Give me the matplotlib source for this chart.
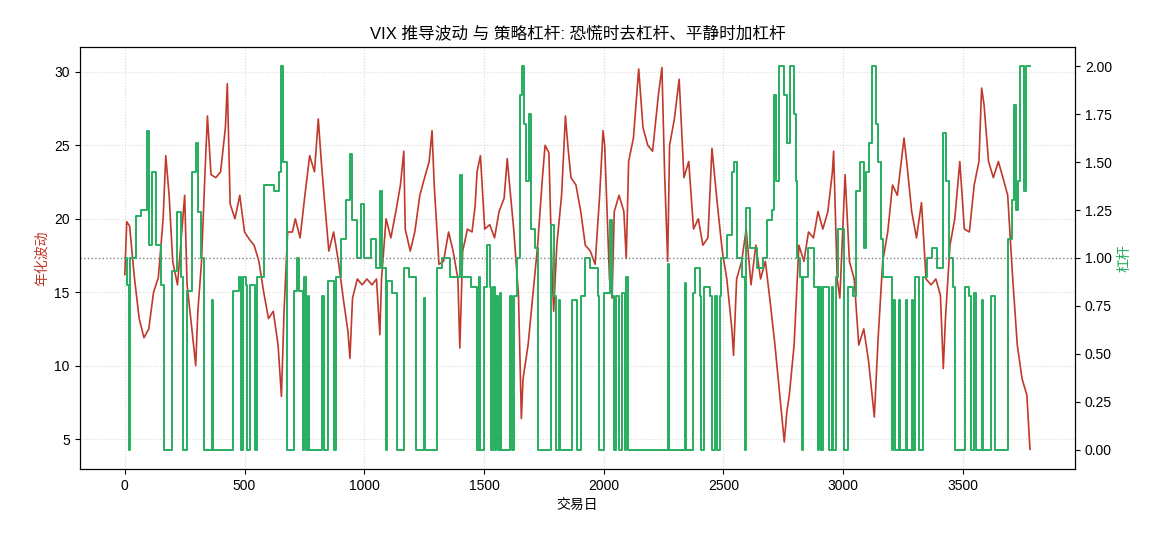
import matplotlib
matplotlib.use("Agg")
import matplotlib.pyplot as plt

plt.rcParams['font.family'] = ['Liberation Sans', 'Noto Sans CJK SC', 'DejaVu Sans']
plt.rcParams['axes.unicode_minus'] = False

# VIX 推导年化波动 (交易日, 数值)
vol_days = [0, 8, 20, 40, 60, 80, 100, 120, 140, 160, 171, 185, 200, 220, 240, 250, 260, 280, 296, 305,
            320, 335, 345, 360, 380, 400, 420, 428, 440, 460, 480, 500, 520, 540, 560, 580, 600, 620, 640, 654,
            665, 680, 700, 712, 732, 752, 772, 792, 808, 820, 832, 852, 872, 892, 912, 932, 940, 951, 971, 991,
            1011, 1032, 1051, 1065, 1072, 1091, 1111, 1132, 1151, 1165, 1171, 1192, 1211, 1232, 1252, 1271, 1283, 1292, 1312, 1331,
            1352, 1371, 1391, 1399, 1411, 1431, 1450, 1463, 1471, 1485, 1503, 1524, 1544, 1563, 1584, 1597, 1604, 1624, 1644, 1656,
            1663, 1684, 1704, 1724, 1744, 1755, 1771, 1784, 1791, 1804, 1824, 1840, 1850, 1863, 1884, 1904, 1923, 1944, 1964, 1983,
            1997, 2004, 2024, 2035, 2044, 2064, 2084, 2094, 2104, 2124, 2146, 2164, 2184, 2204, 2214, 2228, 2243, 2254, 2267, 2275,
            2295, 2315, 2335, 2355, 2375, 2395, 2414, 2435, 2452, 2475, 2495, 2514, 2535, 2542, 2555, 2576, 2595, 2615, 2635, 2655,
            2675, 2696, 2715, 2735, 2754, 2765, 2775, 2795, 2815, 2836, 2855, 2876, 2895, 2915, 2936, 2955, 2960, 2975, 2986, 3008,
            3026, 3046, 3065, 3086, 3106, 3130, 3146, 3165, 3186, 3206, 3226, 3254, 3265, 3286, 3306, 3327, 3346, 3367, 3387, 3406,
            3418, 3427, 3446, 3466, 3487, 3506, 3527, 3547, 3567, 3578, 3588, 3607, 3627, 3648, 3667, 3687, 3708, 3727, 3747, 3767,
            3780]
vol_vals = [16.2, 19.8, 19.5, 16.0, 13.2, 11.9, 12.5, 15.0, 16.0, 20.0, 24.3, 21.6, 17.1, 15.5, 19.6, 21.6, 15.5, 12.5, 10.0, 13.7,
            17.0, 23.2, 27.0, 23.0, 22.8, 23.2, 26.2, 29.2, 21.0, 20.0, 21.6, 19.1, 18.6, 18.2, 17.1, 15.0, 13.2, 13.7, 11.4, 7.9,
            13.7, 19.1, 19.1, 20.0, 18.7, 21.6, 24.3, 23.2, 26.8, 24.0, 21.6, 17.8, 19.1, 17.1, 14.6, 12.3, 10.5, 14.6, 15.9, 15.5,
            15.9, 15.5, 15.9, 12.1, 15.9, 20.0, 18.7, 20.5, 22.3, 24.6, 19.3, 17.8, 19.1, 21.6, 22.8, 23.9, 26.0, 22.3, 16.9, 17.1,
            19.1, 17.8, 15.9, 11.2, 17.8, 19.3, 19.1, 20.9, 23.2, 24.3, 19.3, 19.6, 18.7, 20.5, 21.4, 24.1, 22.8, 19.3, 14.8, 6.4,
            9.1, 11.4, 14.8, 18.2, 22.8, 25.0, 24.5, 16.4, 13.7, 18.2, 21.6, 27.0, 25.0, 22.8, 22.3, 20.5, 18.2, 17.8, 16.9, 21.6,
            26.0, 25.0, 15.9, 14.6, 20.5, 21.6, 20.5, 17.3, 23.9, 25.5, 30.2, 26.2, 25.0, 24.6, 26.2, 28.4, 30.3, 23.2, 17.1, 25.0,
            26.8, 29.5, 22.8, 23.9, 19.3, 20.0, 18.2, 18.7, 24.8, 20.9, 17.8, 15.9, 12.5, 10.7, 15.9, 17.1, 19.3, 15.5, 18.2, 15.9,
            17.1, 14.2, 11.4, 8.0, 4.8, 6.9, 8.0, 11.4, 18.2, 17.1, 19.1, 18.7, 20.5, 19.3, 20.5, 23.2, 24.6, 15.9, 14.6, 23.0,
            17.1, 15.9, 11.4, 12.5, 10.3, 6.5, 11.9, 17.1, 19.1, 22.3, 21.6, 25.5, 23.9, 20.5, 18.7, 21.1, 15.9, 15.5, 15.9, 14.8,
            9.8, 13.2, 18.2, 20.0, 23.9, 19.3, 19.1, 22.3, 23.9, 28.9, 27.8, 23.9, 22.8, 23.9, 22.8, 21.6, 15.9, 11.4, 9.1, 8.0,
            4.3]

# 策略杠杆 (变化点: 交易日, 杠杆)
lev_days = [0, 11, 18, 22, 46, 67, 92, 102, 113, 129, 150, 164, 195, 220, 234, 245, 260, 282, 296, 306,
            320, 331, 366, 370, 453, 477, 484, 495, 505, 512, 523, 542, 551, 581, 623, 644, 654, 662, 676, 706,
            720, 727, 744, 748, 755, 765, 769, 825, 832, 848, 873, 882, 901, 922, 940, 950, 971, 985, 999, 1027,
            1048, 1065, 1075, 1089, 1096, 1117, 1138, 1166, 1186, 1214, 1249, 1253, 1304, 1325, 1360, 1399, 1409, 1444, 1469, 1480,
            1485, 1502, 1513, 1524, 1530, 1538, 1547, 1552, 1558, 1566, 1571, 1608, 1617, 1624, 1638, 1650, 1659, 1669, 1677, 1687,
            1697, 1715, 1725, 1781, 1794, 1802, 1812, 1819, 1868, 1889, 1903, 1923, 1944, 1975, 1979, 2000, 2025, 2035, 2042, 2053,
            2063, 2077, 2087, 2094, 2100, 2267, 2271, 2340, 2345, 2373, 2382, 2403, 2407, 2417, 2442, 2452, 2466, 2473, 2484, 2490,
            2515, 2535, 2545, 2556, 2577, 2588, 2595, 2612, 2640, 2667, 2681, 2702, 2709, 2720, 2730, 2751, 2765, 2779, 2795, 2802,
            2809, 2820, 2827, 2834, 2855, 2876, 2893, 2901, 2906, 2917, 2942, 2952, 2959, 2970, 2980, 3004, 3022, 3043, 3054, 3071,
            3085, 3096, 3106, 3119, 3136, 3147, 3157, 3165, 3203, 3210, 3217, 3231, 3238, 3263, 3268, 3286, 3293, 3300, 3318, 3332,
            3349, 3369, 3390, 3415, 3429, 3443, 3460, 3467, 3508, 3527, 3532, 3546, 3554, 3578, 3585, 3616, 3634, 3689, 3703, 3713,
            3721, 3731, 3738, 3756, 3763, 3780]
lev_vals = [1.0, 0.86, 0.0, 1.0, 1.22, 1.25, 1.66, 1.07, 1.45, 1.07, 0.86, 0.0, 0.93, 1.24, 0.9, 0.0, 0.83, 1.45, 1.6, 1.24,
            1.0, 0.0, 0.78, 0.0, 0.83, 0.9, 0.0, 0.9, 0.86, 0.0, 0.86, 0.0, 0.9, 1.38, 1.35, 1.45, 2.0, 1.5, 0.0, 0.83,
            1.0, 0.83, 0.0, 0.9, 0.0, 0.8, 0.0, 0.8, 0.0, 0.88, 0.0, 0.9, 1.1, 1.3, 1.54, 1.2, 1.0, 1.28, 1.0, 1.1,
            0.95, 1.35, 0.95, 0.0, 0.88, 0.82, 0.0, 0.95, 0.9, 0.0, 0.79, 0.0, 0.95, 1.0, 0.9, 1.43, 0.9, 0.85, 0.0, 0.9,
            0.0, 0.85, 1.07, 0.85, 0.0, 0.85, 0.0, 0.8, 0.0, 0.82, 0.0, 0.8, 0.0, 0.8, 1.0, 1.85, 2.0, 1.7, 1.4, 1.75,
            1.15, 1.05, 0.0, 1.17, 0.8, 0.0, 0.78, 0.0, 0.78, 0.0, 0.8, 1.0, 0.95, 0.8, 0.0, 0.82, 1.2, 0.8, 0.0, 0.8,
            0.0, 0.82, 0.0, 0.9, 0.0, 0.97, 0.0, 0.87, 0.0, 0.82, 0.95, 0.8, 0.0, 0.85, 0.8, 0.0, 0.8, 0.0, 0.8, 1.0,
            1.12, 1.45, 1.5, 1.0, 0.9, 0.0, 1.26, 1.05, 0.95, 1.0, 1.2, 1.25, 1.85, 1.4, 2.0, 1.85, 1.6, 2.0, 1.75, 1.4,
            1.0, 0.9, 0.0, 0.9, 1.05, 0.85, 0.0, 0.85, 0.0, 0.85, 0.0, 0.85, 0.0, 0.9, 1.15, 0.0, 0.85, 0.8, 1.35, 1.5,
            1.05, 1.45, 1.6, 2.0, 1.7, 1.5, 1.1, 0.9, 0.0, 0.78, 0.0, 0.78, 0.0, 0.78, 0.0, 0.78, 0.0, 0.9, 0.0, 0.9,
            1.0, 1.05, 0.95, 1.65, 1.4, 1.0, 0.85, 0.0, 0.85, 0.8, 0.0, 0.82, 0.0, 0.78, 0.0, 0.8, 0.0, 1.1, 1.3, 1.8,
            1.25, 1.4, 2.0, 1.35, 2.0, 2.0]

red = '#c0392b'
green = '#27ae60'

fig, ax = plt.subplots(figsize=(11.7, 5.46), dpi=100)
fig.subplots_adjust(left=0.068, right=0.919, top=0.914, bottom=0.141)

ax.plot(vol_days, vol_vals, color=red, lw=1.2)
ax.set_xlabel('交易日')
ax.set_ylabel('年化波动', color=red)
ax.grid(True, ls=':', color='#d9d9d9', lw=0.8)
ax.set_ylim(2.96, 31.7)

ax2 = ax.twinx()
ax2.plot(lev_days, lev_vals, color=green, lw=1.4, drawstyle='steps-post')
ax2.axhline(1.0, color='grey', ls=':', lw=1)
ax2.set_ylabel('杠杆', color=green)
ax2.set_ylim(-0.1, 2.1)
ax2.set_yticks([0, 0.25, 0.5, 0.75, 1.0, 1.25, 1.5, 1.75, 2.0])
ax2.set_yticklabels(['%.2f' % v for v in ax2.get_yticks()])

ax.set_title('VIX 推导波动 与 策略杠杆: 恐慌时去杠杆、平静时加杠杆', fontsize=12)

fig.savefig('out.png')
